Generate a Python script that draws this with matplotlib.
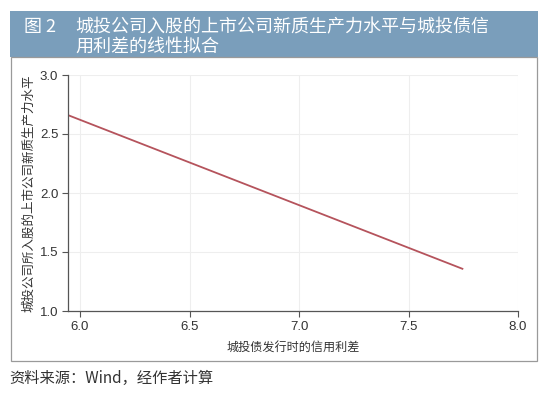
import matplotlib
matplotlib.use("Agg")
import matplotlib.pyplot as plt
from matplotlib.patches import Rectangle

plt.rcParams['font.family'] = ['Noto Sans CJK SC', 'DejaVu Sans']

x_fit = [5.945, 7.75]
y_fit = [2.66, 1.355]
x_ticks = [6.0, 6.5, 7.0, 7.5, 8.0]
y_ticks = [1.0, 1.5, 2.0, 2.5, 3.0]
title_num = "图 2"
title_l1 = "城投公司入股的上市公司新质生产力水平与城投债信"
title_l2 = "用利差的线性拟合"
xlabel = "城投债发行时的信用利差"
ylabel = "城投公司所入股的上市公司新质生产力水平"
source = "资料来源：Wind，经作者计算"

W, H = 550, 393
fig = plt.figure(figsize=(W/100, H/100), dpi=100)

def fx(px): return px / W
def fy(py): return 1 - py / H

# header band
fig.patches.append(Rectangle((fx(10), fy(57)), fx(538) - fx(10), fy(11) - fy(57),
                             transform=fig.transFigure, facecolor='#7a9ebb', edgecolor='none', zorder=0))
# frame box
fig.patches.append(Rectangle((fx(11), fy(361)), fx(537) - fx(11), fy(57) - fy(361),
                             transform=fig.transFigure, facecolor='none', edgecolor='#9a9a9a', lw=0.9, zorder=0))

fig.text(fx(24), fy(27), title_num, color='white', fontsize=13, va='center', ha='left')
fig.text(fx(75), fy(27), title_l1, color='white', fontsize=13, va='center', ha='left')
fig.text(fx(75), fy(47), title_l2, color='white', fontsize=13, va='center', ha='left')
fig.text(fx(9), fy(378), source, color='#333333', fontsize=11, va='center', ha='left',
         family=['Noto Sans CJK SC', 'Liberation Sans'])

ax = fig.add_axes([fx(68), fy(311), fx(518) - fx(68), fy(75) - fy(311)])
ax.plot(x_fit, y_fit, color='#b5535c', lw=1.3, solid_capstyle='butt')
ax.set_xlim(5.945, 8.0)
ax.set_ylim(1.0, 3.0)
ax.set_xticks(x_ticks)
ax.set_yticks(y_ticks)
ax.set_xticklabels([f"{v:.1f}" for v in x_ticks], family='Liberation Sans')
ax.set_yticklabels([f"{v:.1f}" for v in y_ticks], family='Liberation Sans')
ax.grid(True, color='#eeeeee', lw=0.8)
ax.set_axisbelow(True)
for s in ['top', 'right']:
    ax.spines[s].set_visible(False)
for s in ['left', 'bottom']:
    ax.spines[s].set_color('#555555')
    ax.spines[s].set_linewidth(0.9)
ax.tick_params(direction='out', length=4, width=0.8, color='#555555', labelsize=9.5, labelcolor='#333333', pad=3)
ax.set_xlabel(xlabel, fontsize=8.7, color='#333333', labelpad=6)
ax.set_ylabel(ylabel, fontsize=9, color='#333333', labelpad=3)

fig.savefig('out.png', dpi=100)
